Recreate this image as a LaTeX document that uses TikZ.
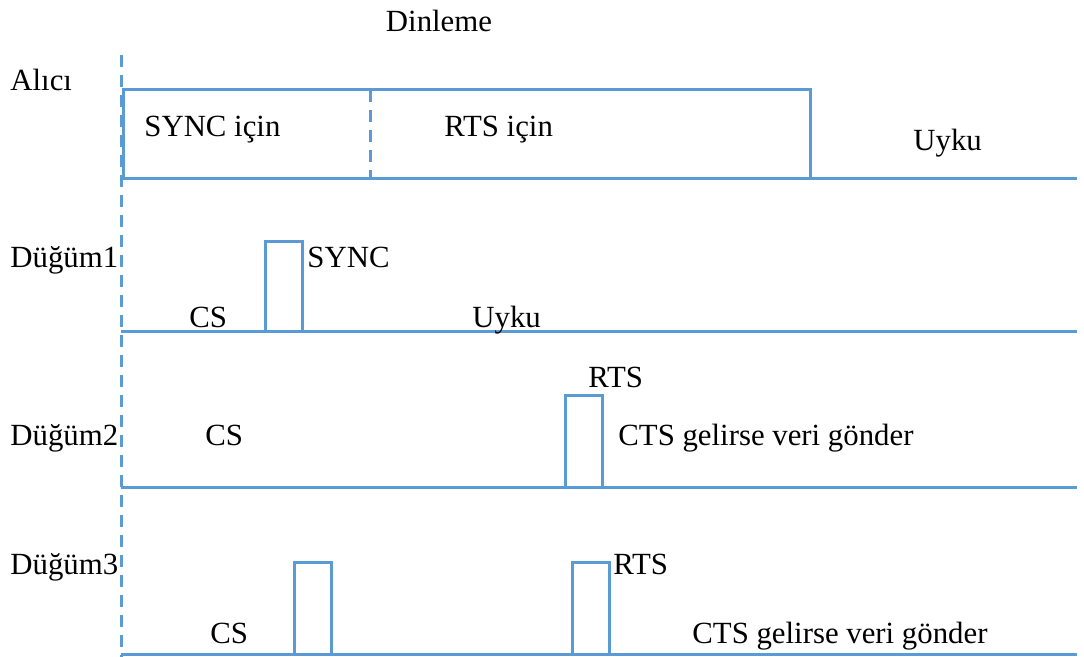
\documentclass[tikz,border=0pt]{standalone}
\usepackage{fontspec}
\setmainfont{Liberation Serif}
\definecolor{sigblue}{HTML}{5B9BD5}

\begin{document}
\begin{tikzpicture}[
    x=0.5pt, y=-0.5pt,
    signal/.style={draw=sigblue, line width=1.5pt},
    guide/.style={draw=sigblue, line width=1.5pt, dash pattern=on 6pt off 4pt},
    lbl/.style={font=\fontsize{15.4}{18}\selectfont, inner sep=0pt, anchor=base west}
]
\useasboundingbox (0,0) rectangle (1084,657);

% Time origin
\draw[guide] (121,55) -- (121,657);

% Receiver
\draw[signal] (123,179) -- (123,90) -- (810,90) -- (810,179);
\draw[signal] (121,179) -- (1077,179);
\draw[guide] (370,90) -- (370,179);
\node[lbl, anchor=base] (listen) at (439,32) {Dinleme};
\node[lbl] (rx) at (10,91) {Alıcı};
\node[lbl] (rxsync) at (144,137) {SYNC için};
\node[lbl] (rxrts) at (444,137) {RTS için};
\node[lbl] (rxsleep) at (913,151) {Uyku};

% Node 1
\draw[signal] (121,332) -- (1077,332);
\draw[signal] (265,332) -- (265,242) -- (302,242) -- (302,332);
\node[lbl] (n1) at (10,268) {Düğüm1};
\node[lbl] (n1sync) at (307,268) {SYNC};
\node[lbl] (n1cs) at (189,328) {CS};
\node[lbl] (n1sleep) at (472,328) {Uyku};

% Node 2
\draw[signal] (121,488) -- (1077,488);
\draw[signal] (565,488) -- (565,396) -- (602,396) -- (602,488);
\node[lbl] (n2) at (10,446) {Düğüm2};
\node[lbl] (n2cs) at (205,446) {CS};
\node[lbl] (n2rts) at (588,388) {RTS};
\node[lbl] (n2cts) at (618,446) {CTS gelirse veri gönder};

% Node 3
\draw[signal] (121,655) -- (1077,655);
\draw[signal] (294,655) -- (294,563) -- (331,563) -- (331,655);
\draw[signal] (572,655) -- (572,563) -- (609,563) -- (609,655);
\node[lbl] (n3) at (10,575) {Düğüm3};
\node[lbl] (n3cs) at (210,644) {CS};
\node[lbl] (n3rts) at (613,575) {RTS};
\node[lbl] (n3cts) at (692,644) {CTS gelirse veri gönder};

\end{tikzpicture}
\end{document}
